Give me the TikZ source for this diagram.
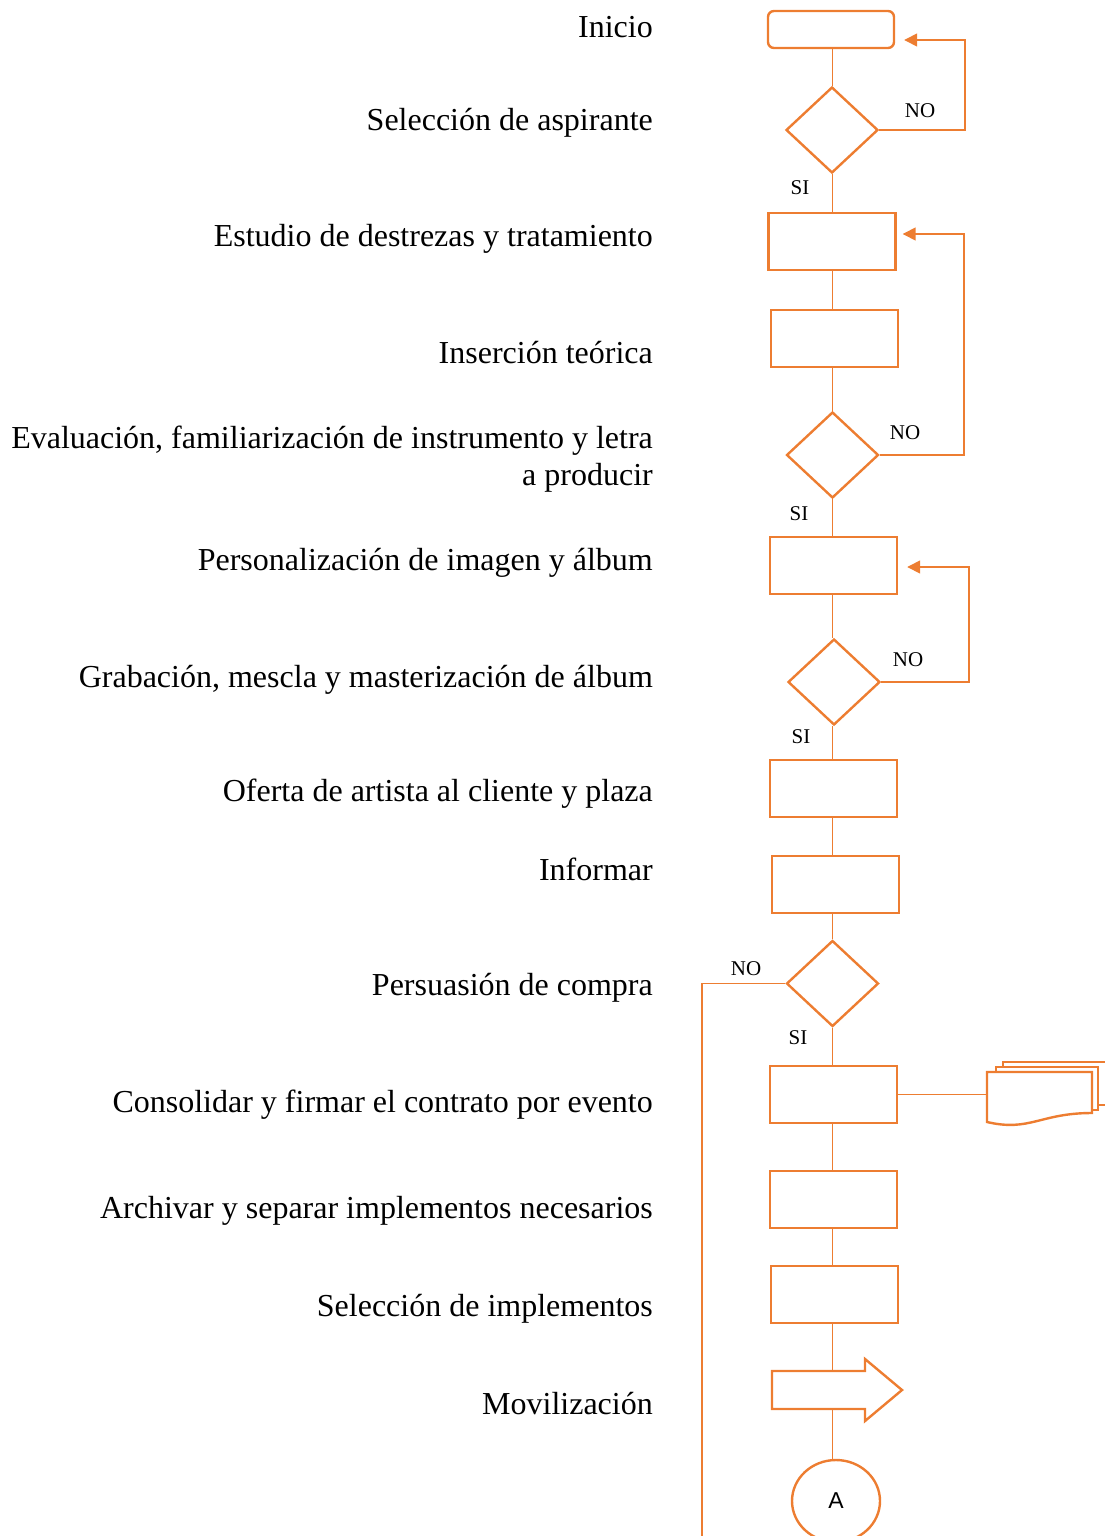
\documentclass[tikz,border=0pt]{standalone}
\usepackage{fontspec}
\setmainfont{Liberation Serif}
\newfontfamily\labelsans{Liberation Sans}
\usetikzlibrary{shapes.geometric,arrows.meta}
\definecolor{flow}{HTML}{ED7D31}

\begin{document}
\begin{tikzpicture}[x=1pt,y=-1pt,
  stepbox/.style={draw=flow,line width=2.4pt,minimum width=127pt,minimum height=57pt,inner sep=0},
  decision/.style={draw=flow,line width=2.4pt,diamond,minimum width=92pt,minimum height=86pt,inner sep=0},
  link/.style={draw=flow,line width=1.5pt},
  back/.style={link,-{Triangle[width=13pt,length=13pt]}},
  caption/.style={anchor=base east,font=\fontsize{32}{37}\selectfont,inner sep=0},
  tag/.style={font=\fontsize{21}{25}\selectfont,inner sep=0}]
\useasboundingbox (0,0) rectangle (1104,1536);

% activity captions (placed by baseline)
\node[caption] (t1)  at (653,37.5)   {Inicio};
\node[caption] (t2)  at (653,131)    {Selección de aspirante};
\node[caption] (t3)  at (653,246.5)  {Estudio de destrezas y tratamiento};
\node[caption] (t4)  at (653,363.5)  {Inserción teórica};
\node[caption] (t5)  at (653,448.5)  {Evaluación, familiarización de instrumento y letra};
\node[caption] (t5b) at (653,485.5)  {a producir};
\node[caption] (t6)  at (653,570.5)  {Personalización de imagen y álbum};
\node[caption] (t7)  at (653,687.5)  {Grabación, mescla y masterización de álbum};
\node[caption] (t8)  at (653,801.5)  {Oferta de artista al cliente y plaza};
\node[caption] (t9)  at (653,880.5)  {Informar};
\node[caption] (t10) at (653,995.5)  {Persuasión de compra};
\node[caption] (t11) at (653,1112.5) {Consolidar y firmar el contrato por evento};
\node[caption] (t12) at (653,1218.5) {Archivar y separar implementos necesarios};
\node[caption] (t13) at (653,1316.5) {Selección de implementos};
\node[caption] (t14) at (653,1414)   {Movilización};

% flow symbols
\coordinate (spine) at (832.5,0);
\node[draw=flow,line width=2.4pt,rounded corners=6pt,minimum width=126pt,minimum height=37pt,inner sep=0] (inicio) at (831,29.5) {};
\node[decision] (d1) at (832,130) {};
\node[stepbox] (b2) at (832,241.5) {};
\node[stepbox] (b3) at (834.5,338.5) {};
\node[decision] (d2) at (832.5,455) {};
\node[stepbox] (b4) at (833.5,565.5) {};
\node[decision] (d3) at (834,682) {};
\node[stepbox] (b5) at (833.5,788.5) {};
\node[stepbox] (b6) at (835.5,884.5) {};
\node[decision] (d4) at (832.5,983.5) {};
\node[stepbox] (b7) at (833.5,1094.5) {};
\node[stepbox] (b8) at (833.5,1199.5) {};
\node[stepbox] (b9) at (834.5,1294.5) {};

% movement arrow
\coordinate (movtop) at (832.5,1371);
\coordinate (movbot) at (832.5,1409);
\draw[draw=flow,line width=2.4pt,line join=miter]
  (772,1371) -- (865,1371) -- (865,1359) -- (902,1390) -- (865,1421) -- (865,1409)
  -- (772,1409) -- cycle;

\node[draw=flow,line width=2.4pt,ellipse,minimum width=88pt,minimum height=82pt,inner sep=0,
      font=\labelsans\fontsize{23}{27}\selectfont] (fin) at (836,1501) {A};

% stacked documents
\coordinate (doc) at (987,1094.5);
\filldraw[draw=flow,fill=white,line width=2.4pt] (1003,1062) rectangle (1106,1105);
\filldraw[draw=flow,fill=white,line width=2.4pt] (996,1067) rectangle (1098,1110);
\filldraw[draw=flow,fill=white,line width=2.4pt] (987,1072) -- (1092,1072) -- (1092,1113)
   .. controls (1040,1113) and (1030,1132) .. (987,1122) -- cycle;

% main sequence
\draw[link] (inicio.south -| spine) -- (d1.north -| spine);
\draw[link] (d1.south -| spine) -- (b2.north -| spine);
\draw[link] (b2.south -| spine) -- (b3.north -| spine);
\draw[link] (b3.south -| spine) -- (d2.north -| spine);
\draw[link] (d2.south -| spine) -- (b4.north -| spine);
\draw[link] (b4.south -| spine) -- (d3.north -| spine);
\draw[link] (d3.south -| spine) -- (b5.north -| spine);
\draw[link] (b5.south -| spine) -- (b6.north -| spine);
\draw[link] (b6.south -| spine) -- (d4.north -| spine);
\draw[link] (d4.south -| spine) -- (b7.north -| spine);
\draw[link] (b7.south -| spine) -- (b8.north -| spine);
\draw[link] (b8.south -| spine) -- (b9.north -| spine);
\draw[link] (b9.south -| spine) -- (movtop);
\draw[link] (movbot) -- (fin.north -| spine);
\draw[link] (b7.east) -- (doc);

% rejection loops
\draw[back] (d1.east) -- (965,130) |- ([shift={(9pt,-10.5pt)}]inicio.east);
\draw[back] (d2.east) -- (964,455) |- ([shift={(6pt,7.5pt)}]b2.east);
\draw[back] (d3.east) -- (969,682) |- ([shift={(9pt,-1.5pt)}]b4.east);
\coordinate (exit) at (702,1540);
\draw[link] (d4.west) -- (702,983.5) -- (exit);

% branch labels
\node[tag] at (920,111) {NO};
\node[tag] at (800,188) {SI};
\node[tag] at (905,433) {NO};
\node[tag] at (799,514) {SI};
\node[tag] at (908,660) {NO};
\node[tag] at (801,737) {SI};
\node[tag] at (746,969) {NO};
\node[tag] at (798,1038) {SI};
\end{tikzpicture}
\end{document}
